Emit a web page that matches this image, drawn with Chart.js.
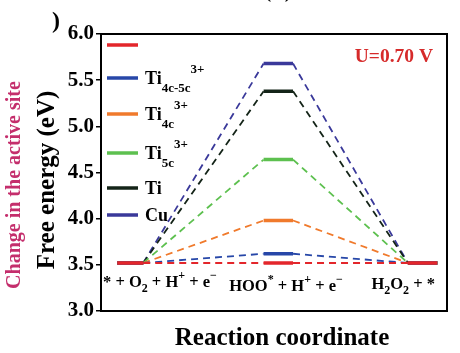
<!DOCTYPE html>
<html><head><meta charset="utf-8">
<script src="https://cdn.jsdelivr.net/npm/chart.js@4"></script>
<style>html,body{margin:0;padding:0;background:#fff}canvas{display:block}</style>
</head><body>
<canvas id="c" width="460" height="353"></canvas>
<script>
// ---- data ----
// rich text parts: [text, level]  level 0 normal, 1 superscript, -1 subscript
const stateLabels = [
  [['* + O',0],['2',-1],[' + H',0],['+',1],[' + e',0],['\u2212',1]],
  [['HOO',0],['*',1],[' + H',0],['+',1],[' + e',0],['\u2212',1]],
  [['H',0],['2',-1],['O',0],['2',-1],[' + *',0]]
];
const seriesLabels = [
  [],
  [['Ti',0],['4c-5c',-1],['3+',1]],
  [['Ti',0],['4c',-1],['3+',1]],
  [['Ti',0],['5c',-1],['3+',1]],
  [['Ti',0]],
  [['Cu',0]]
];
const energyPristine = [3.52, 3.52, 3.52];
const energyTi4c5c   = [3.52, 3.62, 3.52];
const energyTi4c     = [3.52, 3.98, 3.52];
const energyTi5c     = [3.52, 4.64, 3.52];
const energyTi       = [3.52, 5.38, 3.52];
const energyCu       = [3.52, 5.68, 3.52];
const yTickValues = [3.0, 3.5, 4.0, 4.5, 5.0, 5.5, 6.0];
const potentialLabel = 'U=0.70 V';
const yTitle = 'Free energy (eV)';
const xTitle = 'Reaction coordinate';
const sideNote = 'Change in the active site';

// ---- style ----
const FONT = 'Liberation Serif, Times New Roman, serif';
Chart.defaults.font.family = FONT;
Chart.defaults.font.weight = 'bold';
const colors = ['#e3262b', '#2747a8', '#f07a2c', '#5dc04f', '#142418', '#3a399a'];
const energies = [energyPristine, energyTi4c5c, energyTi4c, energyTi5c, energyTi, energyCu];
const plateauX = [[0.47, 1.22], [4.70, 5.55], [8.87, 9.72]];

const datasets = [];
energies.forEach((e, i) => {
  const bars = [], links = [];
  e.forEach((v, k) => {
    bars.push({x: plateauX[k][0], y: v}, {x: plateauX[k][1], y: v});
    if (k < e.length - 1) {
      bars.push({x: (plateauX[k][1] + plateauX[k + 1][0]) / 2, y: null});
      links.push({x: plateauX[k][1], y: v}, {x: plateauX[k + 1][0], y: e[k + 1]});
      if (k < e.length - 2) links.push({x: (plateauX[k + 1][0] + plateauX[k + 1][1]) / 2, y: null});
    }
  });
  datasets.push({data: bars, borderColor: colors[i], borderWidth: 3.5, pointRadius: 0, spanGaps: false, showLine: true, borderCapStyle: 'butt'});
  datasets.push({data: links, borderColor: colors[i], borderWidth: 1.8, borderDash: [7, 5], pointRadius: 0, spanGaps: false, showLine: true});
});

function drawRich(ctx, parts, x, y, size, align, opt) {
  const small = opt.small, supDy = opt.supDy, subDy = opt.subDy;
  const fontOf = lv => 'bold ' + (lv === 0 ? size : small) + 'px ' + FONT;
  let w = 0;
  parts.forEach(([t, lv]) => { ctx.font = fontOf(lv); w += ctx.measureText(t).width; });
  let cx = align === 'center' ? x - w / 2 : (align === 'right' ? x - w : x);
  ctx.textAlign = 'left';
  ctx.textBaseline = 'alphabetic';
  parts.forEach(([t, lv]) => {
    ctx.font = fontOf(lv);
    const dy = lv === 1 ? -supDy : (lv === -1 ? subDy : 0);
    ctx.fillText(t, cx, y + dy);
    cx += ctx.measureText(t).width;
  });
}

const decor = {
  id: 'decor',
  afterDraw(chart) {
    const ctx = chart.ctx, a = chart.chartArea;
    ctx.save();
    // frame
    ctx.strokeStyle = '#000'; ctx.lineWidth = 2;
    ctx.strokeRect(a.left, a.top, a.right - a.left, a.bottom - a.top);
    // legend
    const legY = [45, 78, 114, 153, 188, 215];
    seriesLabels.forEach((parts, i) => {
      ctx.strokeStyle = colors[i]; ctx.lineWidth = 3.5; ctx.setLineDash([]);
      ctx.beginPath(); ctx.moveTo(107, legY[i]); ctx.lineTo(138, legY[i]); ctx.stroke();
      ctx.fillStyle = '#000';
      drawRich(ctx, parts, 145, legY[i] + 6, 18, 'left', {small: 13, supDy: 11, subDy: 8});
    });
    // state labels
    ctx.fillStyle = '#000';
    const stX = [103, 286, 435], stAl = ['left', 'center', 'right'], stY = [287, 291, 289];
    stateLabels.forEach((p, k) => drawRich(ctx, p, stX[k], stY[k], 16.5, stAl[k], {small: 12, supDy: 8, subDy: 5}));
    // potential
    ctx.fillStyle = '#d62a2a';
    ctx.font = 'bold 19.5px ' + FONT; ctx.textAlign = 'right'; ctx.textBaseline = 'alphabetic';
    ctx.fillText(potentialLabel, 433, 62);
    // x title
    ctx.fillStyle = '#000';
    ctx.font = 'bold 25px ' + FONT; ctx.textAlign = 'center';
    ctx.fillText(xTitle, 282, 345);
    // y title
    ctx.save(); ctx.translate(54, 180); ctx.rotate(-Math.PI / 2);
    ctx.font = 'bold 25px ' + FONT; ctx.textAlign = 'center';
    ctx.fillText(yTitle, 0, 0); ctx.restore();
    // side note
    ctx.save(); ctx.translate(20, 185); ctx.rotate(-Math.PI / 2);
    ctx.fillStyle = '#c42e6c';
    ctx.font = 'bold 20px ' + FONT; ctx.textAlign = 'center';
    ctx.fillText(sideNote, 0, 0); ctx.restore();
    // cropped panel marks
    ctx.font = 'bold 24px ' + FONT; ctx.textAlign = 'center'; ctx.fillStyle = '#000';
    ctx.fillText(')', 56, 28);
    ctx.fillText('(b)', 278, -3);
    ctx.restore();
  }
};

new Chart(document.getElementById('c'), {
  type: 'line',
  data: {datasets},
  options: {
    responsive: false, animation: false, devicePixelRatio: 1,
    layout: {padding: {left: 0, right: 13, top: 34, bottom: 42}},
    plugins: {legend: {display: false}, tooltip: {enabled: false}},
    scales: {
      x: {type: 'linear', min: 0, max: 10, display: false},
      y: {
        min: 3, max: 6,
        afterBuildTicks: s => { s.ticks = yTickValues.map(v => ({value: v})); },
        afterFit: s => { s.width = 101; },
        ticks: {callback: v => Number(v).toFixed(1), color: '#000', padding: 2,
                font: {family: FONT, weight: 'bold', size: 21}},
        grid: {drawOnChartArea: false, drawTicks: true, tickLength: 5, color: '#000', lineWidth: 1.5},
        border: {display: true, color: '#000', width: 2}
      }
    }
  },
  plugins: [decor]
});
</script>
</body></html>
